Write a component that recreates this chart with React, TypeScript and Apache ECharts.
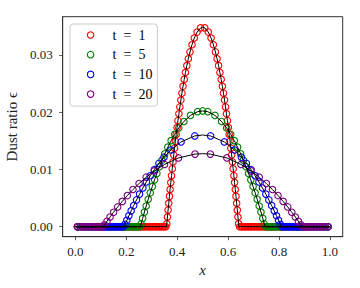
import React, { useEffect, useRef } from "react";
import * as echarts from "echarts";

const FONT = "'Liberation Serif', 'DejaVu Serif', serif";

const labels = ["t\u2002=\u20021", "t\u2002=\u20025", "t\u2002=\u200210", "t\u2002=\u200220"];
const colors = ["#ff0000", "#008000", "#0000ff", "#800080"];
const xTicks = [0, 0.2, 0.4, 0.6, 0.8, 1.0];
const yTicks = [0, 0.01, 0.02, 0.03];

// analytic solution: support edges and peak value per time
const supportLeft = [0.358, 0.255, 0.191, 0.109];
const supportRight = [0.642, 0.745, 0.809, 0.891];
const peakValue = [0.0348, 0.0202, 0.016, 0.01275];

// particles where dust ratio is zero
const t1ZeroX = [
  0.008, 0.02, 0.034, 0.048, 0.064, 0.08, 0.096, 0.112, 0.128, 0.144, 0.16, 0.175, 0.189, 0.202, 0.214,
  0.225, 0.235, 0.244, 0.252, 0.259, 0.265, 0.271, 0.277, 0.283, 0.289, 0.295, 0.301, 0.307, 0.313,
  0.319, 0.325, 0.331, 0.337, 0.343, 0.349, 0.355,
  0.645, 0.651, 0.657, 0.663, 0.669, 0.675, 0.681, 0.687, 0.693, 0.699, 0.705, 0.711, 0.717, 0.723,
  0.729, 0.735, 0.741, 0.748, 0.756, 0.765, 0.775, 0.786, 0.798, 0.811, 0.825, 0.84, 0.856, 0.872,
  0.888, 0.904, 0.92, 0.936, 0.952, 0.966, 0.98, 0.992,
];
const t5ZeroX = [
  0.008, 0.024, 0.038, 0.052, 0.066, 0.08, 0.094, 0.108, 0.122, 0.135, 0.147, 0.158, 0.168, 0.177,
  0.185, 0.192, 0.198, 0.204, 0.21, 0.216, 0.222, 0.228, 0.234, 0.24, 0.246, 0.252,
  0.748, 0.754, 0.76, 0.766, 0.772, 0.778, 0.784, 0.79, 0.796, 0.802, 0.808, 0.815, 0.823, 0.832,
  0.842, 0.853, 0.865, 0.878, 0.892, 0.906, 0.92, 0.934, 0.948, 0.962, 0.976, 0.992,
];
const t10ZeroX = [
  0.008, 0.026, 0.04, 0.053, 0.065, 0.076, 0.086, 0.095, 0.103, 0.11, 0.116, 0.122, 0.128, 0.134,
  0.14, 0.146, 0.152, 0.158, 0.164, 0.17, 0.176, 0.182, 0.188,
  0.812, 0.818, 0.824, 0.83, 0.836, 0.842, 0.848, 0.854, 0.86, 0.866, 0.872, 0.878, 0.884, 0.89,
  0.897, 0.905, 0.914, 0.924, 0.935, 0.947, 0.96, 0.974, 0.992,
];
const t20ZeroX = [
  0.008, 0.018, 0.028, 0.038, 0.048, 0.058, 0.067, 0.075, 0.082, 0.088, 0.094, 0.1, 0.106,
  0.894, 0.9, 0.906, 0.912, 0.918, 0.925, 0.933, 0.942, 0.952, 0.962, 0.972, 0.982, 0.992,
];

// particles inside the dusty region [x, dust ratio]
const t1Curve: [number, number][] = [
  [0.359, 0.0005], [0.3615, 0.0017], [0.364, 0.0029], [0.3666, 0.0041], [0.3693, 0.0053], [0.3719, 0.0065],
  [0.3747, 0.0077], [0.3775, 0.0089], [0.3804, 0.0101], [0.3833, 0.0113], [0.3863, 0.0125], [0.3894, 0.0137],
  [0.3926, 0.0149], [0.3959, 0.0161], [0.3993, 0.0173], [0.4028, 0.0185], [0.4065, 0.0197], [0.4103, 0.0209],
  [0.4142, 0.0221], [0.4184, 0.0233], [0.4227, 0.0245], [0.4274, 0.0257], [0.4323, 0.0269], [0.4377, 0.0281],
  [0.4436, 0.0293], [0.45, 0.03049], [0.458, 0.03175], [0.467, 0.03292], [0.478, 0.03396], [0.492, 0.03469],
  [0.508, 0.03469], [0.522, 0.03396], [0.533, 0.03292], [0.542, 0.03175], [0.55, 0.03049], [0.5564, 0.0293],
  [0.5623, 0.0281], [0.5677, 0.0269], [0.5726, 0.0257], [0.5773, 0.0245], [0.5816, 0.0233], [0.5858, 0.0221],
  [0.5897, 0.0209], [0.5935, 0.0197], [0.5972, 0.0185], [0.6007, 0.0173], [0.6041, 0.0161], [0.6074, 0.0149],
  [0.6106, 0.0137], [0.6137, 0.0125], [0.6167, 0.0113], [0.6196, 0.0101], [0.6225, 0.0089], [0.6253, 0.0077],
  [0.6281, 0.0065], [0.6307, 0.0053], [0.6334, 0.0041], [0.636, 0.0029], [0.6385, 0.0017], [0.641, 0.0005],
];
const t5Curve: [number, number][] = [
  [0.258, 0.00049], [0.264, 0.00146], [0.271, 0.00255], [0.278, 0.00361], [0.286, 0.00479], [0.294, 0.00592],
  [0.302, 0.00701], [0.311, 0.00818], [0.32, 0.0093], [0.33, 0.01047], [0.34, 0.01159], [0.351, 0.01273],
  [0.363, 0.01388], [0.376, 0.01502], [0.39, 0.01613], [0.406, 0.01723], [0.426, 0.01836], [0.452, 0.01942],
  [0.48, 0.02007], [0.5, 0.0202], [0.52, 0.02007], [0.548, 0.01942], [0.574, 0.01836], [0.594, 0.01723],
  [0.61, 0.01613], [0.624, 0.01502], [0.637, 0.01388], [0.649, 0.01273], [0.66, 0.01159], [0.67, 0.01047],
  [0.68, 0.0093], [0.689, 0.00818], [0.698, 0.00701], [0.706, 0.00592], [0.714, 0.00479], [0.722, 0.00361],
  [0.729, 0.00255], [0.736, 0.00146], [0.742, 0.00049],
];
const t10Curve: [number, number][] = [
  [0.195, 0.00041], [0.202, 0.00112], [0.21, 0.00191], [0.219, 0.00277], [0.229, 0.00369], [0.24, 0.00467],
  [0.252, 0.00569], [0.265, 0.00675], [0.279, 0.00782], [0.294, 0.00889], [0.31, 0.00995], [0.328, 0.01104],
  [0.348, 0.01213], [0.375, 0.01338], [0.415, 0.01479], [0.469, 0.01584], [0.531, 0.01584], [0.585, 0.01479],
  [0.625, 0.01338], [0.652, 0.01213], [0.672, 0.01104], [0.69, 0.00995], [0.706, 0.00889], [0.721, 0.00782],
  [0.735, 0.00675], [0.748, 0.00569], [0.76, 0.00467], [0.771, 0.00369], [0.781, 0.00277], [0.79, 0.00191],
  [0.798, 0.00112], [0.805, 0.00041],
];
const t20Curve: [number, number][] = [
  [0.114, 0.00032], [0.124, 0.00096], [0.136, 0.0017], [0.15, 0.00253], [0.166, 0.00345], [0.184, 0.00442],
  [0.204, 0.00544], [0.226, 0.00649], [0.25, 0.00754], [0.278, 0.00864], [0.31, 0.00974], [0.35, 0.01087],
  [0.405, 0.012], [0.47, 0.01267], [0.53, 0.01267], [0.595, 0.012], [0.65, 0.01087], [0.69, 0.00974],
  [0.722, 0.00864], [0.75, 0.00754], [0.774, 0.00649], [0.796, 0.00544], [0.816, 0.00442], [0.834, 0.00345],
  [0.85, 0.00253], [0.864, 0.0017], [0.876, 0.00096], [0.886, 0.00032],
];

const zeroXs = [t1ZeroX, t5ZeroX, t10ZeroX, t20ZeroX];
const curves = [t1Curve, t5Curve, t10Curve, t20Curve];

export default function App() {
  const ref = useRef<HTMLDivElement>(null);
  useEffect(() => {
    document.body.style.margin = "0";
    if (!ref.current) return;
    const chart = echarts.init(ref.current, undefined, { renderer: "svg" });

    const scatterSeries = labels.map((name, i) => ({
      type: "scatter",
      name,
      data: [...zeroXs[i].map((x) => [x, 0]), ...curves[i]],
      symbol: "circle",
      symbolSize: 6.5,
      itemStyle: { color: "rgba(0,0,0,0)", borderColor: colors[i], borderWidth: 1.1, opacity: 1 },
      emphasis: { disabled: true },
      z: 2,
    }));

    const lineSeries = labels.map((_, i) => {
      const pts: [number, number][] = [...curves[i], [0.5, peakValue[i]]];
      pts.sort((a, b) => a[0] - b[0]);
      const data = [[0, 0], [supportLeft[i], 0], ...pts, [supportRight[i], 0], [1, 0]];
      return {
        type: "line",
        data,
        showSymbol: false,
        symbol: "none",
        lineStyle: { color: "#000", width: 1 },
        emphasis: { disabled: true },
        silent: true,
        z: 3,
      };
    });

    chart.setOption({
      animation: false,
      grid: {
        left: 62.7,
        top: 16.7,
        right: 17.3,
        bottom: 51.3,
        show: true,
        borderColor: "#333",
        borderWidth: 1,
        backgroundColor: "transparent",
        containLabel: false,
        outerBoundsMode: "none",
      },
      legend: {
        data: labels.map((name, i) => ({
          name,
          icon: "circle",
          itemStyle: { color: "rgba(0,0,0,0)", borderColor: colors[i], borderWidth: 1.1 },
        })),
        orient: "vertical",
        left: 70,
        top: 24,
        itemWidth: 34,
        itemHeight: 6.5,
        itemGap: 5.7,
        padding: [4, 5, 5, 16.8],
        backgroundColor: "rgba(255,255,255,0.8)",
        borderColor: "#cccccc",
        borderWidth: 1,
        borderRadius: 3,
        selectedMode: false,
        textStyle: { fontFamily: FONT, fontSize: 14, color: "#000" },
      },
      xAxis: {
        type: "value",
        min: -0.05,
        max: 1.05,
        axisLine: { show: true, onZero: false, lineStyle: { color: "#333", width: 1 } },
        splitLine: { show: false },
        axisTick: { show: true, customValues: xTicks, length: 3.5, lineStyle: { color: "#333", width: 0.8 } },
        axisLabel: {
          customValues: xTicks,
          formatter: (v: number) => v.toFixed(1),
          fontFamily: FONT,
          fontSize: 13,
          color: "#222",
          margin: 8,
        },
        name: "x",
        nameLocation: "middle",
        nameGap: 18,
        nameTextStyle: { fontFamily: FONT, fontSize: 15, fontStyle: "italic", color: "#222" },
      },
      yAxis: {
        type: "value",
        min: -0.00174,
        max: 0.03664,
        axisLine: { show: true, onZero: false, lineStyle: { color: "#333", width: 1 } },
        splitLine: { show: false },
        axisTick: { show: true, customValues: yTicks, length: 3.5, lineStyle: { color: "#333", width: 0.8 } },
        axisLabel: {
          customValues: yTicks,
          formatter: (v: number) => v.toFixed(2),
          fontFamily: FONT,
          fontSize: 13,
          color: "#222",
          margin: 10,
        },
        name: "Dust ratio \u03f5",
        nameLocation: "middle",
        nameGap: 27,
        nameTextStyle: { fontFamily: FONT, fontSize: 15, color: "#222" },
      },
      series: [...scatterSeries, ...lineSeries],
    });
    return () => chart.dispose();
  }, []);
  return <div ref={ref} style={{ width: 360, height: 288, position: "absolute", left: 0, top: 0 }} />;
}
